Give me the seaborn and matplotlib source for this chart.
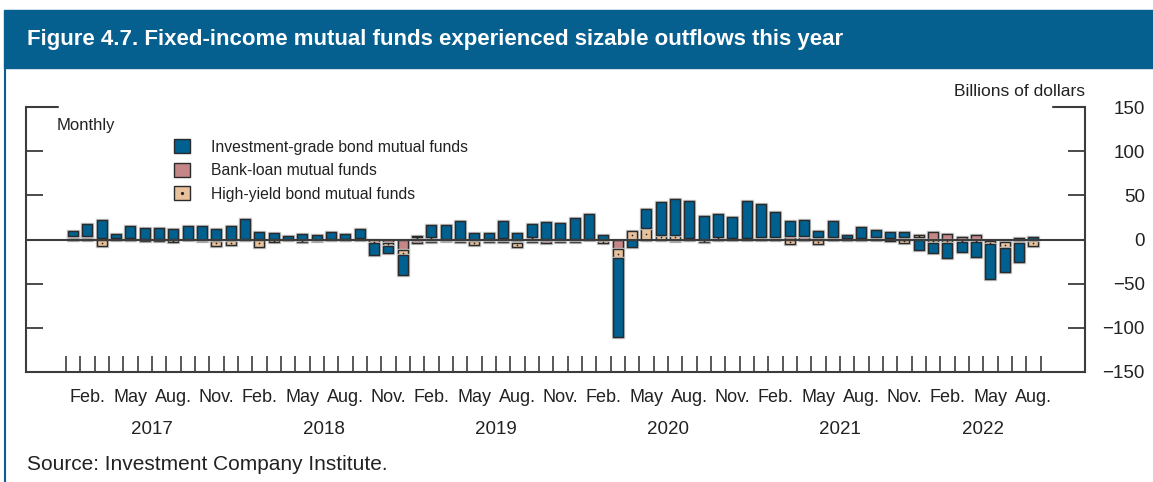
"""
Figure 4.7 - monthly net flows of fixed-income mutual funds, stacked bars.
Saves out.png.
"""

import matplotlib
matplotlib.use("Agg")
import matplotlib.pyplot as plt
import matplotlib.patheffects as pe
from matplotlib.patches import Patch, Rectangle
from matplotlib.lines import Line2D
import numpy as np
import pandas as pd
import seaborn as sns

# ---- data (billions of dollars, Jan 2017 - Aug 2022) ----
months = pd.date_range("2017-01-01", "2022-08-01", freq="MS")

inv_grade = [6, 14, 20, 4, 13, 12, 12, 11, 15, 15, 12, 15,
             23, 8, 7, 3, 6, 5, 7, 5, 11, -13.5, -8, -22,
             0.5, 13, 16, 21, 7, 7.5, 19, 7, 15, 20, 18.5, 24.5,
             28, 5, -88.5, -8.3, 22, 37, 40, 42, 27, 26, 24, 42,
             37.5, 28, 16, 18, 7, 17.5, 3, 12, 9, 6, 5, -12,
             -11, -17.5, -11, -16.5, -40, -26.5, -22, 3]
bank_loan = [3, 3, 2, 1, 2, 0.5, 0.5, 0.5, 0.5, -1, -1.5, -1,
             0.5, 0.5, 0.5, 1, -1, -1, 1, 1, 1, -0.5, -4, -12,
             -4, -3, -2, -3, -2, -3, -3, -4, -2.6, -3.5, -2.5, -3,
             0.5, -1, -10.5, -0.5, -1, -1, -1.5, 1.5, -1, -1, 1, 1,
             2, 3, 4.5, 4.5, 3, 3, 2, 2, 2, 2, 3, 2.5,
             8, 6.5, 3, 5, -2, -3, -4, -1]
high_yield = [0.5, 0.5, -7, 1, -1, -2, -2, -3, 0.3, -1, -6, -5,
              -1, -9, -2.5, -1, -2, -1, -0.5, -0.5, 0.3, -4, -3, -6,
              3, 3, 0.3, 0.3, -4, 0.3, 1.5, -4, 3, 0.3, 0.3, 0.3,
              0.3, -3, -11, 10, 12.5, 5.5, 5.5, -0.5, -1.5, 3, 0.3, 0.3,
              0.3, 0.3, -5, -0.5, -5, 0.3, -0.5, -0.5, 0.3, -1.5, -4, 2.5,
              -4, -4, -3, -3, -3, -7, 2, -6]

month_ticks = {2: "Feb.", 5: "May", 8: "Aug.", 11: "Nov."}
y_ticks = [150, 100, 50, 0, -50, -100, -150]
y_labels = ["150", "100", "50", "0", "\u221250", "\u2212100", "\u2212150"]

BLUE = "#00608f"
PINK = "#c48686"
TAN = "#e8c29c"
EDGE = "#2a2a2a"
AXIS = "#3c3c3c"
HEADER = "#05608f"
TEXT = "#222222"

sns.set_theme(style="white")
plt.rcParams["font.family"] = ["Liberation Sans", "DejaVu Sans"]

W, H = 1153, 482
fig = plt.figure(figsize=(W / 100, H / 100), dpi=100)
ax = fig.add_axes([26 / W, 1 - 372 / H, (1085 - 26) / W, (372 - 107) / H])

x = np.arange(len(months))
pos = np.zeros(len(x))
neg = np.zeros(len(x))
halo = [pe.Stroke(linewidth=2.4, foreground="#c4c4c4"), pe.Normal()]
layers = [(bank_loan, PINK), (high_yield, TAN), (inv_grade, BLUE)]
for vals, color in layers:
    v = np.array(vals, dtype=float)
    base = np.where(v >= 0, pos, neg)
    bars = ax.bar(x, v, bottom=base, width=0.7, color=color,
                  edgecolor=EDGE, linewidth=1.0, zorder=3)
    for b in bars:
        b.set_path_effects(halo)
    if vals is high_yield:
        m = np.abs(v) >= 1.5
        ax.scatter(x[m], (base + v / 2)[m], s=1.5, color=TEXT, zorder=4, lw=0)
    pos += np.where(v >= 0, v, 0)
    neg += np.where(v < 0, v, 0)

ax.axhline(0, color=AXIS, lw=1.5, zorder=5)

ax.set_xlim(-3.28, 70.6)
ax.set_ylim(-150, 150)

for side in ["left", "right", "bottom"]:
    ax.spines[side].set_color(AXIS)
    ax.spines[side].set_linewidth(1.5)
ax.spines["top"].set_visible(False)

# y axis: ticks on both spines, labels on the right
ax.set_yticks(y_ticks)
ax.set_yticklabels(y_labels)
ax.tick_params(axis="y", which="major", left=True, right=True,
               labelleft=False, labelright=True, direction="in",
               length=12, width=1.3, color=AXIS, pad=43,
               labelsize=13.5, labelcolor=TEXT)
for lbl in ax.get_yticklabels():
    lbl.set_horizontalalignment("right")

# longer ticks at the top corners
ytr = ax.get_yaxis_transform()
ax.plot([0, 0.03], [150, 150], transform=ytr, color=AXIS, lw=1.5, clip_on=False)
ax.plot([0.97, 1.0], [150, 150], transform=ytr, color=AXIS, lw=1.5, clip_on=False)

# x axis: month boundaries as minor ticks, quarter labels as major
tick_pos = [i for i, d in enumerate(months) if d.month in month_ticks]
tick_lab = [month_ticks[months[i].month] for i in tick_pos]
ax.set_xticks(tick_pos)
ax.set_xticklabels(tick_lab)
ax.set_xticks(np.arange(len(months) + 1) - 0.5, minor=True)
ax.tick_params(axis="x", which="major", bottom=True, length=0, pad=12,
               labelsize=13, labelcolor=TEXT)
ax.tick_params(axis="x", which="minor", bottom=True, direction="in",
               length=11.5, width=1.2, color=AXIS)

xtr = ax.get_xaxis_transform()
years = pd.Series(x, index=months.year).groupby(level=0).mean()
for yr, xc in years.items():
    ax.text(xc, -0.216, str(yr), transform=xtr, ha="center", va="center",
            fontsize=13.5, color=TEXT)

ax.text(1.0, 1.057, "Billions of dollars", transform=ax.transAxes,
        ha="right", va="center", fontsize=12.5, color=TEXT)
ax.text(0.029, 0.932, "Monthly", transform=ax.transAxes,
        ha="left", va="center", fontsize=12, color=TEXT)

handles = [
    Patch(facecolor=BLUE, edgecolor=EDGE, lw=1.0),
    Patch(facecolor=PINK, edgecolor=EDGE, lw=1.0),
    (Patch(facecolor=TAN, edgecolor=EDGE, lw=1.0),
     Line2D([], [], marker="o", ms=1.3, color=TEXT, ls="")),
]
labels = ["Investment-grade bond mutual funds", "Bank-loan mutual funds",
          "High-yield bond mutual funds"]
ax.legend(handles, labels, loc="upper left", bbox_to_anchor=(0.1398, 0.878),
          frameon=False, borderpad=0, borderaxespad=0, fontsize=11.3,
          handlelength=1.0, handleheight=1.0, handletextpad=1.35,
          labelspacing=0.52, labelcolor=TEXT)

# header band, frame line and source note
fig.patches.append(Rectangle((4 / W, 1 - 68 / H), 1 - 4 / W, 58 / H,
                             transform=fig.transFigure, color=HEADER, zorder=0))
fig.add_artist(Line2D([4.5 / W, 4.5 / W], [0, 1 - 68 / H], color=HEADER, lw=1.5))
fig.text(27 / W, 1 - 39 / H,
         "Figure 4.7. Fixed-income mutual funds experienced sizable outflows this year",
         color="white", fontsize=16, fontweight="bold", va="center", ha="left")
fig.text(27 / W, 1 - 465 / H, "Source: Investment Company Institute.",
         fontsize=15, va="center", ha="left", color=TEXT)

fig.savefig("out.png", dpi=100)
